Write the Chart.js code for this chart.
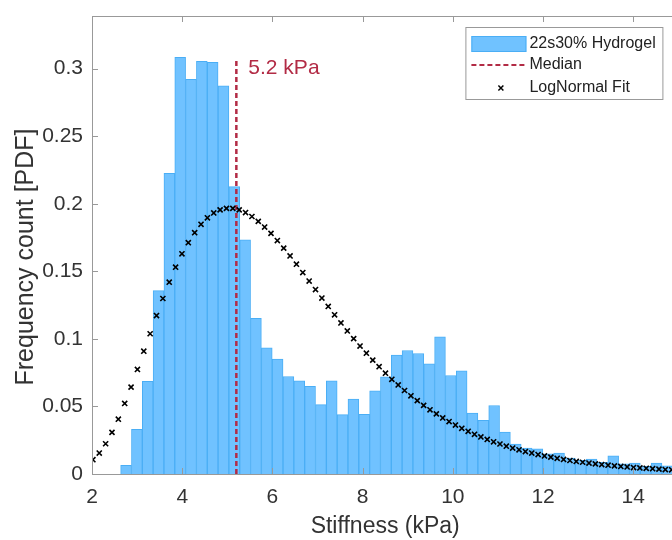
<!DOCTYPE html>
<html>
<head>
<meta charset="utf-8">
<script src="https://cdn.jsdelivr.net/npm/chart.js"></script>
<style>
  html, body { margin: 0; padding: 0; background: #fff; overflow: hidden; }
  #wrap { width: 684px; height: 540px; }
</style>
</head>
<body>
<div id="wrap"><canvas id="histStiffness" width="684" height="540"></canvas></div>
<script>
// histogram: bin centres (kPa) and PDF height of each bin
const binCenters = [2.755, 2.995, 3.235, 3.475, 3.715, 3.955, 4.195, 4.435, 4.675, 4.915,
  5.155, 5.395, 5.635, 5.875, 6.115, 6.355, 6.595, 6.835, 7.075, 7.315,
  7.555, 7.795, 8.035, 8.275, 8.515, 8.755, 8.995, 9.235, 9.475, 9.715,
  9.955, 10.195, 10.435, 10.675, 10.915, 11.155, 11.395, 11.635, 11.875, 12.115,
  12.355, 12.595, 12.835, 13.075, 13.315, 13.555, 13.795, 14.035, 14.275, 14.515, 14.755];
const binPdf = [0.0065, 0.033, 0.0685, 0.1357, 0.2226, 0.3084, 0.2922, 0.3055, 0.3047, 0.2874,
  0.2127, 0.1733, 0.1153, 0.0934, 0.0850, 0.0722, 0.0690, 0.0648, 0.0513, 0.0690,
  0.0439, 0.0555, 0.0441, 0.0616, 0.0720, 0.0880, 0.0914, 0.0892, 0.0816, 0.1016,
  0.0729, 0.0764, 0.0451, 0.0397, 0.0507, 0.0310, 0.0222, 0.0192, 0.0187, 0.0150,
  0.0155, 0.0118, 0.0101, 0.0111, 0.0086, 0.0135, 0.0076, 0.0081, 0.0056, 0.0081, 0.0060];

// lognormal fit markers
const fitX = [2.020, 2.161, 2.302, 2.443, 2.584, 2.725, 2.866, 3.007, 3.148, 3.289,
  3.430, 3.571, 3.712, 3.853, 3.994, 4.135, 4.276, 4.417, 4.558, 4.699,
  4.840, 4.981, 5.122, 5.263, 5.404, 5.545, 5.686, 5.827, 5.968, 6.109,
  6.250, 6.391, 6.532, 6.673, 6.814, 6.955, 7.096, 7.237, 7.378, 7.519,
  7.660, 7.801, 7.942, 8.083, 8.224, 8.365, 8.506, 8.647, 8.788, 8.929,
  9.070, 9.211, 9.352, 9.493, 9.634, 9.775, 9.916, 10.057, 10.198, 10.339,
  10.480, 10.621, 10.762, 10.903, 11.044, 11.185, 11.326, 11.467, 11.608, 11.749,
  11.890, 12.031, 12.172, 12.313, 12.454, 12.595, 12.736, 12.877, 13.018, 13.159,
  13.300, 13.441, 13.582, 13.723, 13.864, 14.005, 14.146, 14.287, 14.428, 14.569,
  14.710, 14.851];
const fitY = [0.0106, 0.0155, 0.0224, 0.0308, 0.0406, 0.0522, 0.0643, 0.0774, 0.0909, 0.1038,
  0.1173, 0.1299, 0.1420, 0.1531, 0.1630, 0.1712, 0.1786, 0.1848, 0.1896, 0.1932,
  0.1955, 0.1966, 0.1966, 0.1955, 0.1935, 0.1906, 0.1870, 0.1828, 0.1781, 0.1728,
  0.1672, 0.1614, 0.1553, 0.1491, 0.1428, 0.1365, 0.1302, 0.1240, 0.1178, 0.1118,
  0.1059, 0.1002, 0.0947, 0.0894, 0.0843, 0.0794, 0.0746, 0.0701, 0.0659, 0.0618,
  0.0579, 0.0543, 0.0508, 0.0475, 0.0445, 0.0415, 0.0388, 0.0362, 0.0338, 0.0316,
  0.0294, 0.0274, 0.0256, 0.0238, 0.0222, 0.0206, 0.0192, 0.0179, 0.0166, 0.0155,
  0.0144, 0.0134, 0.0125, 0.0116, 0.0108, 0.0100, 0.0093, 0.0087, 0.0081, 0.0075,
  0.0070, 0.0065, 0.0060, 0.0056, 0.0052, 0.0048, 0.0045, 0.0042, 0.0039, 0.0036,
  0.0033, 0.0031];

const medianX = [5.2, 5.2];
const medianY = [0, 0.308];
const medianLabel = '5.2 kPa';

const xTicks = [2, 4, 6, 8, 10, 12, 14];
const yTicks = [0, 0.05, 0.1, 0.15, 0.2, 0.25, 0.3];
const yTitle = 'Frequency count [PDF]';

const FONT = "'Liberation Sans', Arial, Helvetica, sans-serif";
const barFill = '#70c2ff';
const barEdge = '#4aaef5';
const medianColor = '#b22b45';

// box, inner ticks, median text, y title and legend (MATLAB look)
const matlabAxes = {
    id: 'matlabAxes',
    afterDatasetsDraw(chart) {
        const { ctx, chartArea: a, scales: { x, y } } = chart;
        ctx.save();
        ctx.strokeStyle = '#999';
        ctx.lineWidth = 1;
        ctx.strokeRect(a.left + 0.5, a.top + 0.5, a.right - a.left, a.bottom - a.top);
        ctx.beginPath();
        xTicks.forEach(v => {
            const px = Math.round(x.getPixelForValue(v)) + 0.5;
            ctx.moveTo(px, a.bottom); ctx.lineTo(px, a.bottom - 6);
            ctx.moveTo(px, a.top); ctx.lineTo(px, a.top + 6);
        });
        yTicks.forEach(v => {
            const py = Math.round(y.getPixelForValue(v)) + 0.5;
            ctx.moveTo(a.left, py); ctx.lineTo(a.left + 6, py);
            ctx.moveTo(a.right, py); ctx.lineTo(a.right - 6, py);
        });
        ctx.stroke();

        // y axis title, a little below the axis centre as in the original
        ctx.save();
        ctx.translate(26, (a.top + a.bottom) / 2 + 12);
        ctx.rotate(-Math.PI / 2);
        ctx.fillStyle = '#333';
        ctx.font = '25px ' + FONT;
        ctx.textAlign = 'center';
        ctx.textBaseline = 'middle';
        ctx.fillText(yTitle, 0, 0);
        ctx.restore();

        // median annotation
        ctx.fillStyle = medianColor;
        ctx.font = '21px ' + FONT;
        ctx.textBaseline = 'middle';
        ctx.textAlign = 'left';
        ctx.fillText(medianLabel, x.getPixelForValue(medianX[0]) + 12, y.getPixelForValue(0.3));

        // legend
        const ds = chart.data.datasets;
        const bx = a.right - 213, by = a.top + 11, bw = 197, bh = 72;
        ctx.fillStyle = '#fff';
        ctx.fillRect(bx, by, bw, bh);
        ctx.strokeStyle = '#999';
        ctx.strokeRect(bx + 0.5, by + 0.5, bw, bh);
        const rows = [by + 17, by + 38, by + 61];
        const sx = bx + 6, sw = 55;
        ctx.fillStyle = barFill;
        ctx.fillRect(sx, rows[0] - 8, sw, 16);
        ctx.strokeStyle = barEdge;
        ctx.strokeRect(sx + 0.5, rows[0] - 7.5, sw - 1, 15);
        ctx.strokeStyle = medianColor;
        ctx.lineWidth = 2;
        ctx.setLineDash([5, 3]);
        ctx.beginPath();
        ctx.moveTo(sx, rows[1]); ctx.lineTo(sx + sw, rows[1]);
        ctx.stroke();
        ctx.setLineDash([]);
        const cx = sx + sw / 2 + 2, r = 2.5;
        ctx.strokeStyle = '#000';
        ctx.lineWidth = 1.5;
        ctx.beginPath();
        ctx.moveTo(cx - r, rows[2] - r); ctx.lineTo(cx + r, rows[2] + r);
        ctx.moveTo(cx - r, rows[2] + r); ctx.lineTo(cx + r, rows[2] - r);
        ctx.stroke();
        ctx.fillStyle = '#222';
        ctx.font = '16px ' + FONT;
        rows.forEach((ry, i) => ctx.fillText(ds[i].label, sx + sw + 3, ry));
        ctx.restore();
    }
};

new Chart(document.getElementById('histStiffness'), {
    type: 'bar',
    data: {
        datasets: [{
            type: 'bar',
            label: '22s30% Hydrogel',
            data: binCenters.map((c, i) => ({ x: c, y: binPdf[i] })),
            backgroundColor: barFill,
            borderColor: barEdge,
            borderWidth: 1,
            barPercentage: 1,
            categoryPercentage: 1,
            order: 3
        }, {
            type: 'line',
            label: 'Median',
            data: medianX.map((v, i) => ({ x: v, y: medianY[i] })),
            borderColor: medianColor,
            borderWidth: 2.5,
            borderDash: [5, 3],
            pointRadius: 0,
            fill: false,
            order: 2
        }, {
            type: 'line',
            label: 'LogNormal Fit',
            data: fitX.map((v, i) => ({ x: v, y: fitY[i] })),
            showLine: false,
            pointStyle: 'crossRot',
            pointRadius: 3.6,
            pointBorderWidth: 1.6,
            pointBorderColor: '#000',
            pointBackgroundColor: '#000',
            order: 1
        }]
    },
    options: {
        responsive: false,
        animation: false,
        layout: { padding: { top: 16, right: 4, bottom: 0, left: 0 } },
        scales: {
            x: {
                type: 'linear',
                min: 2,
                max: 15,
                offset: false,
                afterFit: s => { s.height = 66; s.paddingLeft = 0; s.paddingRight = 0; },
                afterBuildTicks: s => { s.ticks = xTicks.map(v => ({ value: v })); },
                grid: { display: false, drawTicks: false },
                border: { display: false },
                ticks: { color: '#333', padding: 11, font: { size: 21, family: FONT } },
                title: {
                    display: true,
                    text: 'Stiffness (kPa)',
                    color: '#333',
                    padding: { top: 0, bottom: 0 },
                    font: { size: 23, family: FONT }
                }
            },
            y: {
                min: 0,
                max: 0.339,
                afterFit: s => { s.width = 92; s.paddingTop = 0; s.paddingBottom = 0; },
                afterBuildTicks: s => { s.ticks = yTicks.map(v => ({ value: v })); },
                grid: { display: false, drawTicks: false },
                border: { display: false },
                ticks: {
                    color: '#333',
                    padding: 9,
                    font: { size: 21, family: FONT },
                    callback: v => String(+v.toFixed(2))
                },
                title: { display: false }
            }
        },
        plugins: {
            legend: { display: false },
            tooltip: { enabled: false }
        }
    },
    plugins: [matlabAxes]
});
</script>
</body>
</html>
